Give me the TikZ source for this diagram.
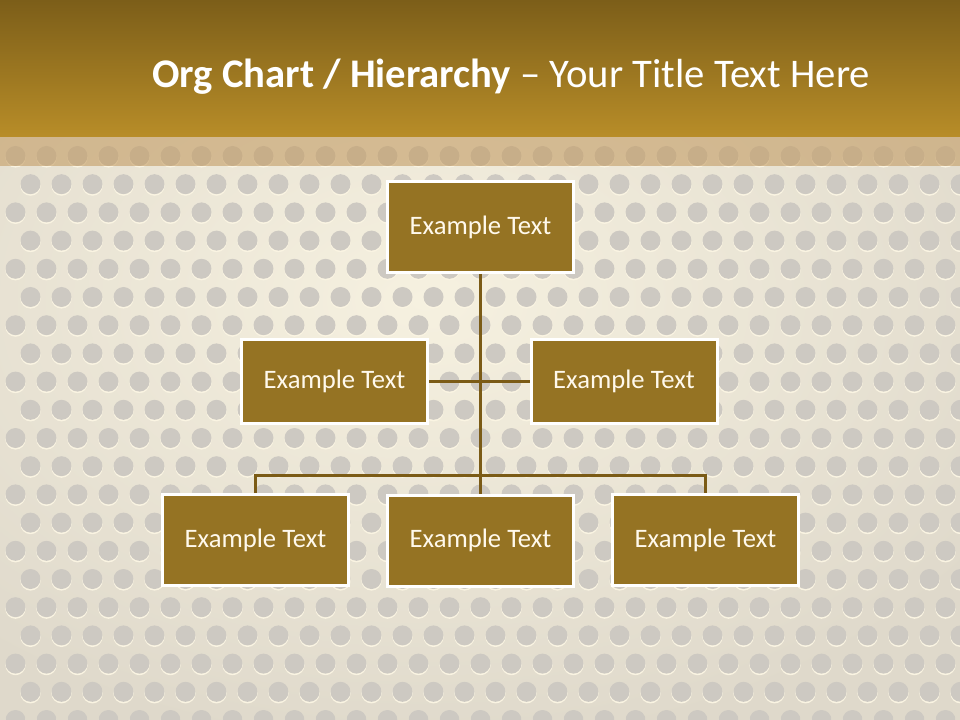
\documentclass[tikz,border=0pt]{standalone}
\usepackage{fontspec}
\setmainfont{Carlito}
\definecolor{hdrtop}{HTML}{7C5E19}
\definecolor{hdrbot}{HTML}{B88D28}
\definecolor{boxfill}{HTML}{957323}
\definecolor{linec}{HTML}{7B5B16}
\definecolor{dotgray}{HTML}{CDC9C2}
\definecolor{dothi}{HTML}{FAF4E2}
\definecolor{bgbase}{HTML}{DFD9CB}
\definecolor{bgglow}{HTML}{F6F1E0}
\definecolor{stripc}{HTML}{C39C64}
\definecolor{txtc}{HTML}{FFF9EC}
\begin{document}
\begin{tikzpicture}[x=0.75pt,y=-0.75pt,
  orgbox/.style={rectangle, fill=boxfill, draw=white, line width=2.25pt,
    minimum width=139.5pt, inner sep=0pt, text=txtc,
    font=\fontsize{20}{24}\selectfont},
  topbox/.style={orgbox, minimum height=68.25pt},
  midbox/.style={orgbox, minimum height=63pt},
  conn/.style={draw=linec, line width=2.25pt}]
\useasboundingbox (0,0) rectangle (960,720);
% background
\fill[bgbase] (0,0) rectangle (960,720);
\begin{scope}
  \clip (0,130) rectangle (960,720);
  \shade[inner color=bgglow, outer color=bgbase] (-250,-150) rectangle (1100,750);
\end{scope}
% dots
\foreach \j in {0,...,20}{
  \pgfmathsetmacro{\yy}{156+28.2*\j}
  \pgfmathsetmacro{\xo}{mod(\j,2)==0 ? 15.5 : 30.5}
  \foreach \k in {0,...,31}{
    \fill[dothi] (\xo+31*\k,\yy+1.4) circle[radius=10.2];
    \fill[dotgray] (\xo+31*\k,\yy) circle[radius=10];
  }
}
% strip
\fill[stripc, opacity=0.6] (0,136) rectangle (960,166);
% header
\shade[top color=hdrtop, bottom color=hdrbot] (0,0) rectangle (960,137);
\node[anchor=base west, text=white, inner sep=0pt,
  font=\fontsize{30.5}{36}\selectfont] (title) at (152,88)
  {\textbf{Org Chart / Hierarchy} – Your Title Text Here};
% boxes
\node[topbox] (top) at (480.5,227) {Example Text};
\node[midbox] (ml) at (334.5,381.5) {Example Text};
\node[midbox] (mr) at (624,381.5) {Example Text};
\node[topbox] (bl) at (255.5,540) {Example Text};
\node[topbox] (bc) at (480.5,540.5) {Example Text};
\node[topbox] (br) at (705.5,540) {Example Text};
\coordinate (bus) at (480.5,475);
% connectors
\draw[conn] (top.south) -- (bc.north);
\draw[conn] (ml.east) -- (mr.west);
\draw[conn] (bl.north) |- (bus) -| (br.north);
\end{tikzpicture}
\end{document}
